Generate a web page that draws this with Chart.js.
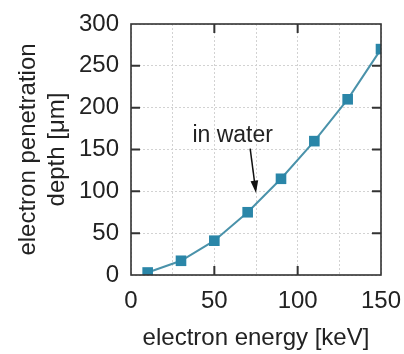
<!DOCTYPE html>
<html>
<head>
<meta charset="utf-8">
<script src="https://cdn.jsdelivr.net/npm/chart.js@4/dist/chart.umd.min.js"></script>
<style>
  html, body { margin: 0; padding: 0; background: #fff; }
  #wrap { width: 404px; height: 354px; }
</style>
</head>
<body>
<div id="wrap"><canvas id="myChart" width="404" height="354"></canvas></div>
<script>
'use strict';

// electron energy [keV]
let energies = [10, 30, 50, 70, 90, 110, 130, 150];
// penetration depth [um]
let depths = [3, 17, 41, 75, 115, 160, 210, 270];

let xTicks = [0, 50, 100, 150];
let yTicks = [0, 50, 100, 150, 200, 250, 300];

let noteText = 'in water';
let noteAt = [61, 167];       // label position (data units)
let arrowFrom = [71.5, 151];
let arrowTo = [75, 98];

let fontName = '"Liberation Sans", Arial, sans-serif';
let inkColor = '#222';

// inward tick marks, frame, and the annotation
let framePlugin = {
    id: 'frame',
    afterDraw(chart) {
        let ctx = chart.ctx;
        let area = chart.chartArea;
        let xs = chart.scales.x;
        let ys = chart.scales.y;
        ctx.save();
        ctx.strokeStyle = '#333';
        ctx.lineWidth = 1.6;
        ctx.strokeRect(area.left, area.top, area.right - area.left, area.bottom - area.top);

        ctx.lineWidth = 2;
        for (let i = 1; i < yTicks.length - 1; i++) {
            let py = ys.getPixelForValue(yTicks[i]);
            ctx.beginPath();
            ctx.moveTo(area.left, py);
            ctx.lineTo(area.left + 9, py);
            ctx.moveTo(area.right, py);
            ctx.lineTo(area.right - 9, py);
            ctx.stroke();
        }
        for (let i = 1; i < xTicks.length - 1; i++) {
            let px = xs.getPixelForValue(xTicks[i]);
            ctx.beginPath();
            ctx.moveTo(px, area.bottom);
            ctx.lineTo(px, area.bottom - 9);
            ctx.moveTo(px, area.top);
            ctx.lineTo(px, area.top + 9);
            ctx.stroke();
        }

        // note text
        ctx.fillStyle = inkColor;
        ctx.font = '23px ' + fontName;
        ctx.textAlign = 'center';
        ctx.textBaseline = 'middle';
        ctx.fillText(noteText, xs.getPixelForValue(noteAt[0]), ys.getPixelForValue(noteAt[1]));

        // arrow
        let x1 = xs.getPixelForValue(arrowFrom[0]);
        let y1 = ys.getPixelForValue(arrowFrom[1]);
        let x2 = xs.getPixelForValue(arrowTo[0]);
        let y2 = ys.getPixelForValue(arrowTo[1]);
        let ang = Math.atan2(y2 - y1, x2 - x1);
        ctx.strokeStyle = '#111';
        ctx.lineWidth = 1.5;
        ctx.beginPath();
        ctx.moveTo(x1, y1);
        ctx.lineTo(x2 - 8 * Math.cos(ang), y2 - 8 * Math.sin(ang));
        ctx.stroke();
        ctx.fillStyle = '#111';
        ctx.beginPath();
        ctx.moveTo(x2, y2);
        ctx.lineTo(x2 - 13 * Math.cos(ang - 0.3), y2 - 13 * Math.sin(ang - 0.3));
        ctx.lineTo(x2 - 13 * Math.cos(ang + 0.3), y2 - 13 * Math.sin(ang + 0.3));
        ctx.closePath();
        ctx.fill();
        ctx.restore();
    }
};

let ctx = document.getElementById('myChart').getContext('2d');

let chart = new Chart(ctx, {
    type: 'line',
    data: {
        datasets: [
            {
                label: 'in water',
                data: energies.map((e, i) => ({ x: e, y: depths[i] })),
                borderColor: '#4a92aa',
                borderWidth: 2,
                backgroundColor: '#2a86a8',
                pointStyle: 'rect',
                pointRadius: 7.5,
                pointBorderWidth: 0,
                pointBackgroundColor: '#2a86a8',
                tension: 0
            }
        ]
    },
    options: {
        responsive: false,
        animation: false,
        layout: { padding: { top: 24, right: 23, left: 14, bottom: 0 } },
        plugins: {
            legend: { display: false },
            tooltip: { enabled: false }
        },
        scales: {
            x: {
                type: 'linear',
                min: 0,
                max: 150,
                afterFit(axis) {
                    axis.height = 354 - 275;
                    axis.paddingLeft = 0;
                    axis.paddingRight = 0;
                },
                ticks: {
                    stepSize: 25,
                    padding: 12,
                    autoSkip: false,
                    maxRotation: 0,
                    minRotation: 0,
                    color: inkColor,
                    font: { family: fontName, size: 24 },
                    callback: (v) => (xTicks.includes(v) ? v : '')
                },
                grid: {
                    color: '#d2d2d2',
                    lineWidth: 1,
                    drawTicks: false
                },
                border: { display: false, dash: [2, 2] },
                title: {
                    display: true,
                    text: 'electron energy [keV]',
                    color: inkColor,
                    font: { family: fontName, size: 24 },
                    padding: { top: 11, bottom: 1 }
                }
            },
            y: {
                type: 'linear',
                min: 0,
                max: 300,
                afterFit(axis) {
                    axis.width = 131 - 14;
                    axis.paddingTop = 0;
                    axis.paddingBottom = 0;
                },
                ticks: {
                    stepSize: 50,
                    padding: 12,
                    color: inkColor,
                    font: { family: fontName, size: 24 },
                    callback: (v) => (yTicks.includes(v) ? v : '')
                },
                grid: {
                    color: '#d2d2d2',
                    lineWidth: 1,
                    drawTicks: false
                },
                border: { display: false, dash: [2, 2] },
                title: {
                    display: true,
                    text: ['electron penetration', 'depth [\u03bcm]'],
                    color: inkColor,
                    font: { family: fontName, size: 24, lineHeight: 1.2 },
                    padding: { top: 0, bottom: 0 }
                }
            }
        }
    },
    plugins: [framePlugin]
});
</script>
</body>
</html>
